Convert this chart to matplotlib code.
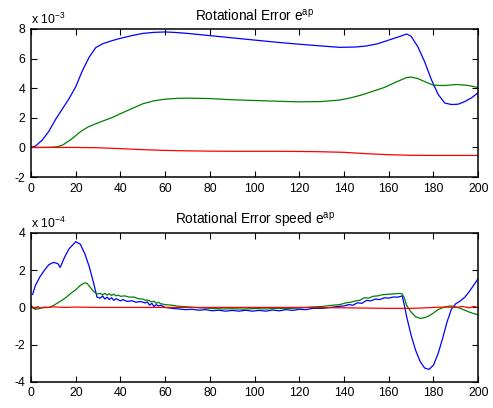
import numpy as np
import matplotlib
matplotlib.use("Agg")
import matplotlib.pyplot as plt
from matplotlib.ticker import FuncFormatter

plt.rcParams['font.family'] = ['Liberation Sans', 'DejaVu Sans']
plt.rcParams['mathtext.fontset'] = 'custom'
plt.rcParams['mathtext.rm'] = 'Liberation Sans'
plt.rcParams['mathtext.it'] = 'Liberation Sans'

# top panel: rotational error (units of 1e-3)
err_blue_x = [0, 2, 5, 8, 11, 14, 17, 20, 23, 26, 29, 32, 36, 40, 45, 50, 55, 60, 65, 70, 80, 90,
              100, 110, 120, 130, 138, 145, 150, 155, 160, 165, 168, 170, 173, 176, 179, 182, 185,
              188, 191, 194, 197, 200]
err_blue_y = [0, 0.1, 0.5, 1.1, 1.9, 2.6, 3.3, 4.1, 5.2, 6.1, 6.75, 7.0, 7.2, 7.37, 7.55, 7.7, 7.77,
              7.8, 7.76, 7.7, 7.55, 7.4, 7.25, 7.1, 6.97, 6.85, 6.76, 6.78, 6.85, 7.0, 7.25, 7.5, 7.66,
              7.5, 6.8, 5.8, 4.6, 3.6, 3.0, 2.9, 2.92, 3.1, 3.35, 3.7]

err_green_x = [0, 5, 10, 12, 14, 16, 18, 20, 22, 24, 26, 29, 32, 36, 40, 45, 50, 55, 60, 65, 70, 80,
               90, 100, 110, 120, 130, 138, 143, 148, 153, 158, 163, 168, 170, 173, 176, 180, 185,
               190, 195, 200]
err_green_y = [0, 0, 0.02, 0.06, 0.15, 0.35, 0.55, 0.8, 1.05, 1.25, 1.42, 1.6, 1.78, 2.0, 2.28, 2.62,
               2.95, 3.15, 3.26, 3.31, 3.33, 3.3, 3.22, 3.17, 3.12, 3.08, 3.1, 3.2, 3.35, 3.55, 3.8,
               4.05, 4.4, 4.72, 4.75, 4.65, 4.45, 4.2, 4.18, 4.25, 4.2, 4.05]

err_red_x = [0, 10, 20, 30, 40, 50, 60, 70, 80, 90, 100, 110, 120, 130, 140, 150, 160, 170, 180, 190, 200]
err_red_y = [0, 0, 0, -0.02, -0.08, -0.15, -0.2, -0.23, -0.25, -0.26, -0.26, -0.26, -0.27, -0.29,
             -0.33, -0.42, -0.49, -0.53, -0.54, -0.54, -0.54]

# bottom panel: rotational error speed (units of 1e-4)
spd_blue_x = [0.7, 2, 4, 6, 8, 10, 12, 13, 15, 17, 20, 22, 24, 26, 28, 29.5, 31, 32, 33, 34, 35, 36,
              37, 38, 40, 41, 43, 45, 47, 49, 51, 52, 53, 54, 55, 56, 57, 58, 60, 63, 66, 69, 72, 75,
              78, 81, 84, 87, 90, 93, 96, 99, 102, 105, 108, 111, 114, 117, 120, 123, 126, 130, 134,
              137, 140, 142, 144, 146, 148, 150, 152, 154, 156, 158, 160, 162, 164, 166, 167, 168,
              170, 172, 174, 176, 178, 180, 182, 184, 186, 188, 190, 192, 194, 196, 198, 200]
spd_blue_y = [0.7, 1.2, 1.65, 2.0, 2.3, 2.42, 2.35, 2.15, 2.7, 3.15, 3.53, 3.4, 2.9, 2.2, 1.3, 0.55,
              0.5, 0.62, 0.45, 0.55, 0.42, 0.52, 0.38, 0.47, 0.35, 0.42, 0.32, 0.36, 0.28, 0.32, 0.24,
              0.3, 0.12, 0.22, 0.05, 0.15, 0.08, 0.12, 0.0, -0.05, -0.08, -0.12, -0.1, -0.15, -0.12,
              -0.18, -0.15, -0.2, -0.16, -0.2, -0.15, -0.2, -0.16, -0.2, -0.14, -0.18, -0.12, -0.16,
              -0.1, -0.12, -0.05, -0.05, 0.0, 0.05, 0.08, 0.15, 0.12, 0.25, 0.22, 0.38, 0.35, 0.45,
              0.42, 0.52, 0.5, 0.56, 0.55, 0.62, 0.1, -0.5, -1.5, -2.3, -2.9, -3.25, -3.33, -3.1,
              -2.5, -1.7, -0.8, -0.1, 0.2, 0.35, 0.55, 0.85, 1.2, 1.55]

spd_green_x = [0, 1, 2, 3, 5, 8, 10, 12, 14, 16, 18, 20, 22, 24, 25, 26, 27, 28, 29.5, 31, 32, 33,
               34, 35, 36, 37, 38, 39, 40, 42, 44, 46, 48, 50, 51, 52, 54, 55, 56, 57, 58, 60, 63,
               66, 70, 75, 80, 85, 90, 95, 100, 105, 110, 115, 120, 125, 130, 135, 138, 141, 143,
               145, 147, 149, 151, 153, 155, 157, 159, 161, 163, 165, 166, 167, 168, 170, 172, 174,
               176, 178, 180, 182, 184, 186, 188, 190, 192, 194, 196, 198, 200]
spd_green_y = [0.05, -0.05, -0.1, -0.08, -0.02, 0.0, 0.1, 0.25, 0.4, 0.57, 0.78, 0.95, 1.18, 1.32,
               1.3, 1.15, 1.0, 0.85, 0.72, 0.75, 0.68, 0.76, 0.66, 0.74, 0.64, 0.72, 0.62, 0.66, 0.6,
               0.62, 0.55, 0.56, 0.47, 0.45, 0.38, 0.4, 0.3, 0.33, 0.22, 0.28, 0.2, 0.15, 0.12, 0.06,
               0.03, -0.02, -0.05, -0.08, -0.07, -0.09, -0.06, -0.08, -0.05, -0.06, -0.03, 0.02,
               0.05, 0.12, 0.15, 0.25, 0.28, 0.35, 0.38, 0.52, 0.5, 0.6, 0.62, 0.68, 0.7, 0.72, 0.74,
               0.75, 0.73, 0.5, 0.1, -0.25, -0.5, -0.59, -0.55, -0.45, -0.3, -0.12, -0.02, 0.05,
               0.08, 0.02, -0.05, -0.15, -0.25, -0.33, -0.4]

spd_red_x = [0, 1, 2, 3, 4, 6, 8, 10, 15, 20, 30, 40, 60, 80, 100, 120, 140, 160, 170, 175, 180,
             185, 190, 193, 196, 198, 200]
spd_red_y = [0.1, 0.0, -0.05, 0.05, -0.03, 0.02, 0.0, 0.03, 0.0, 0.02, 0.0, 0.0, 0.0, 0.0, 0.0,
             0.0, -0.02, -0.05, -0.05, -0.03, 0.0, 0.02, 0.0, 0.05, -0.02, 0.05, 0.0]

BLUE, GREEN, RED = '#0000ff', '#008000', '#ff0000'

fig = plt.figure(figsize=(4.93, 4.08), dpi=100)
ax1 = fig.add_axes([0.063, 0.566, 0.907, 0.363])
ax2 = fig.add_axes([0.063, 0.064, 0.907, 0.365])

def style(ax, ylim, yticks, exp):
    ax.set_xlim(0, 200)
    ax.set_ylim(*ylim)
    ax.set_xticks(np.arange(0, 201, 20))
    ax.set_yticks(yticks)
    ax.yaxis.set_major_formatter(FuncFormatter(lambda v, p: '%g' % v))
    ax.tick_params(direction='in', top=True, right=True, labelsize=8.8, length=4, width=0.8,
                   pad=4, colors='black')
    for s in ax.spines.values():
        s.set_linewidth(1.1)
    ax.text(0.0, 1.015, 'x 10$^{%d}$' % exp, transform=ax.transAxes, fontsize=8.8,
            ha='left', va='bottom')

ax1.plot(err_blue_x, err_blue_y, color=BLUE, lw=0.9)
ax1.plot(err_green_x, err_green_y, color=GREEN, lw=0.9)
ax1.plot(err_red_x, err_red_y, color=RED, lw=0.9)
style(ax1, (-2, 8), [-2, 0, 2, 4, 6, 8], -3)
ax1.set_title('Rotational Error e$^{\\mathrm{ap}}$', fontsize=9.8, pad=6)

ax2.plot(spd_blue_x, spd_blue_y, color=BLUE, lw=0.9)
ax2.plot(spd_green_x, spd_green_y, color=GREEN, lw=0.9)
ax2.plot(spd_red_x, spd_red_y, color=RED, lw=0.9)
style(ax2, (-4, 4), [-4, -2, 0, 2, 4], -4)
ax2.set_title('Rotational Error speed e$^{\\mathrm{ap}}$', fontsize=9.8, pad=6)

fig.savefig('out.png', dpi=100)
